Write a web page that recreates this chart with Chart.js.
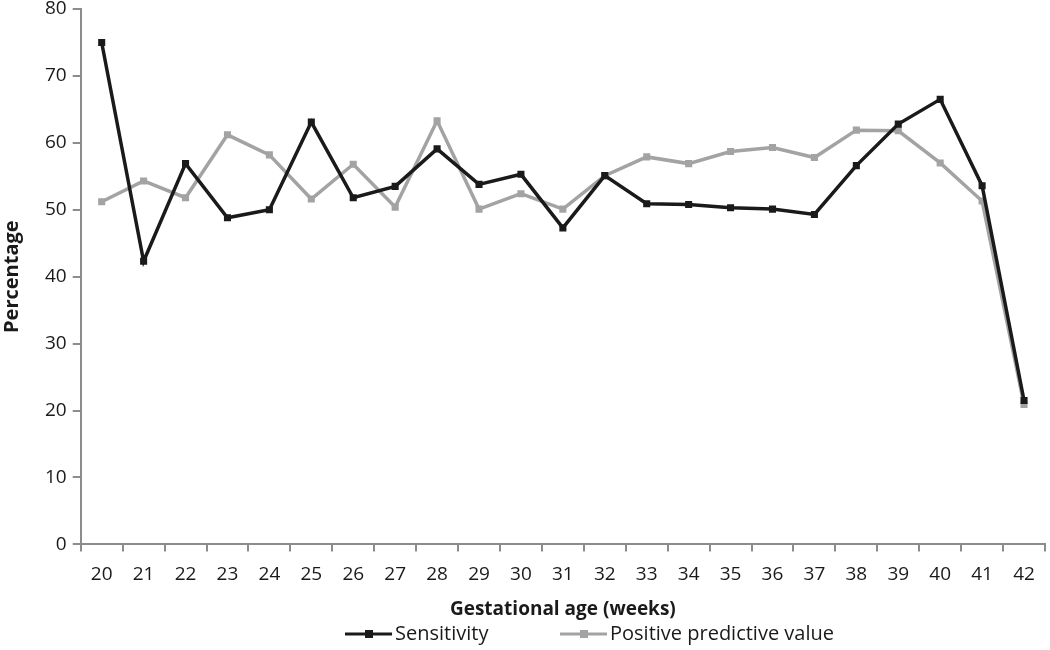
<!DOCTYPE html>
<html>
<head>
<meta charset="utf-8">
<script src="https://cdn.jsdelivr.net/npm/chart.js@4/dist/chart.umd.min.js"></script>
<style>
  html, body { margin: 0; padding: 0; background: #fff; }
  #wrap { width: 1050px; height: 650px; }
</style>
</head>
<body>
<div id="wrap"><canvas id="chart" width="1050" height="650"></canvas></div>
<script>
const weeks = ['20','21','22','23','24','25','26','27','28','29','30','31','32','33','34','35','36','37','38','39','40','41','42'];
const sensitivity = [75.0, 42.3, 56.9, 48.8, 50.0, 63.1, 51.8, 53.5, 59.1, 53.8, 55.3, 47.3, 55.1, 50.9, 50.8, 50.3, 50.1, 49.3, 56.6, 62.8, 66.5, 53.6, 21.5];
const ppv = [51.2, 54.3, 51.8, 61.2, 58.2, 51.6, 56.8, 50.4, 63.3, 50.1, 52.4, 50.1, 55.1, 57.9, 56.9, 58.7, 59.3, 57.8, 61.9, 61.8, 57.0, 51.3, 20.9];

const darkColor = '#1a1a1a';
const greyColor = '#a3a3a3';
const axisColor = '#8c8c8c';
const fontFamily = '"Open Sans", "DejaVu Sans", sans-serif';

// legend drawn by hand: a short line with a square marker, then the label
const bottomLegend = {
  id: 'bottomLegend',
  afterDraw(chart) {
    const ctx = chart.ctx;
    const items = [
      { label: 'Sensitivity', color: darkColor, x: 345 },
      { label: 'Positive predictive value', color: greyColor, x: 560 }
    ];
    const y = 634;
    ctx.save();
    items.forEach(it => {
      ctx.strokeStyle = it.color;
      ctx.lineWidth = 3;
      ctx.beginPath();
      ctx.moveTo(it.x, y);
      ctx.lineTo(it.x + 47, y);
      ctx.stroke();
      ctx.fillStyle = it.color;
      ctx.fillRect(it.x + 20, y - 4, 8, 8);
      ctx.fillStyle = '#1a1a1a';
      ctx.font = '20px ' + fontFamily;
      ctx.textBaseline = 'middle';
      ctx.fillText(it.label, it.x + 50, y);
    });
    ctx.restore();
  }
};

new Chart(document.getElementById('chart'), {
  type: 'line',
  data: {
    labels: weeks,
    datasets: [
      {
        label: 'Sensitivity',
        data: sensitivity,
        borderColor: darkColor,
        backgroundColor: darkColor,
        borderWidth: 3.5,
        pointStyle: 'rect',
        pointRadius: 5,
        pointBorderWidth: 0,
        tension: 0
      },
      {
        label: 'Positive predictive value',
        data: ppv,
        borderColor: greyColor,
        backgroundColor: greyColor,
        borderWidth: 3.5,
        pointStyle: 'rect',
        pointRadius: 5,
        pointBorderWidth: 0,
        tension: 0
      }
    ]
  },
  options: {
    responsive: false,
    animation: false,
    layout: { padding: { top: 9, right: 1, bottom: 29, left: 0 } },
    plugins: {
      legend: { display: false },
      tooltip: { enabled: false }
    },
    scales: {
      x: {
        offset: true,
        grid: { offset: true, drawOnChartArea: false, drawTicks: true, tickLength: 7, color: axisColor, lineWidth: 2 },
        border: { color: axisColor, width: 2 },
        ticks: { color: '#1a1a1a', font: { family: fontFamily, size: 19 }, maxRotation: 0, padding: 12 },
        title: { display: true, text: 'Gestational age (weeks)', color: '#1a1a1a', font: { family: fontFamily, size: 19, weight: 'bold' }, padding: { top: 0, bottom: 0 } }
      },
      y: {
        min: 0,
        max: 80,
        ticks: { stepSize: 10, color: '#1a1a1a', font: { family: fontFamily, size: 19, lineHeight: 0.1 }, padding: 6 },
        grid: { drawOnChartArea: false, drawTicks: true, tickLength: 8, color: axisColor, lineWidth: 2 },
        border: { color: axisColor, width: 2 },
        title: { display: true, text: 'Percentage', color: '#1a1a1a', font: { family: fontFamily, size: 20, weight: 'bold' }, padding: { top: 0, bottom: 15 } }
      }
    }
  },
  plugins: [bottomLegend]
});
</script>
</body>
</html>
